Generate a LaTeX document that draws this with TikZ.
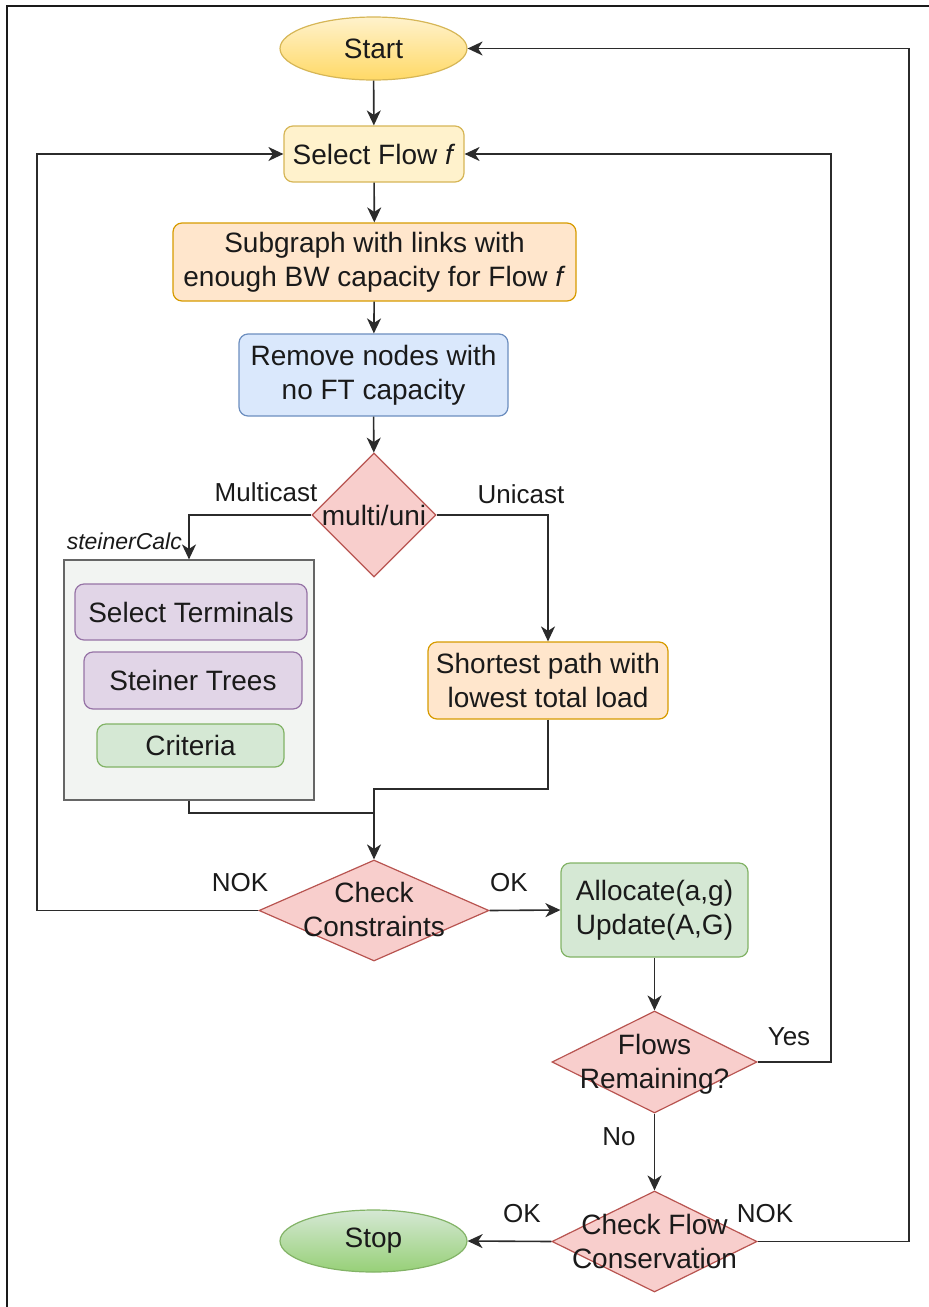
\documentclass[tikz,border=0pt]{standalone}
\usepackage{fontspec}
\setmainfont{Liberation Sans}
\usetikzlibrary{shapes.geometric,arrows.meta}

\definecolor{txt}{HTML}{1A1A1A}
\definecolor{wire}{HTML}{2B2B2B}
\definecolor{yelF}{HTML}{FFF2CC}\definecolor{yelD}{HTML}{D6B656}\definecolor{yelB}{HTML}{FFD966}
\definecolor{orF}{HTML}{FFE6CC}\definecolor{orD}{HTML}{D79B00}
\definecolor{blF}{HTML}{DAE8FC}\definecolor{blD}{HTML}{6C8EBF}
\definecolor{rdF}{HTML}{F8CECC}\definecolor{rdD}{HTML}{B85450}
\definecolor{puF}{HTML}{E1D5E7}\definecolor{puD}{HTML}{9673A6}
\definecolor{grF}{HTML}{D5E8D4}\definecolor{grD}{HTML}{82B366}\definecolor{grB}{HTML}{97D077}
\definecolor{cnF}{HTML}{F2F4F2}\definecolor{cnD}{HTML}{666666}

\tikzset{
  big/.style={font=\fontsize{28}{34}\selectfont, text=txt},
  small/.style={font=\fontsize{26}{30}\selectfont, text=txt},
  stepbox/.style={rectangle, rounded corners=9pt, draw, line width=1.2pt, align=center,
    inner sep=0pt, big},
  terminal/.style={ellipse, draw, line width=1.2pt, inner sep=0pt, big},
  decision/.style={diamond, draw=rdD, fill=rdF, line width=1.2pt, inner sep=0pt, aspect=1},
  dtext/.style={align=center, big},
  arr/.style={draw=wire, line width=1.6pt, -{Stealth[length=15pt,width=14pt,inset=4.5pt]}},
  wireln/.style={draw=wire, line width=1.6pt},
}

\begin{document}
\begin{tikzpicture}[x=1pt,y=-1pt]
\useasboundingbox (0,0) rectangle (929,1307);
% page frame
\draw[line width=1.5pt, draw=txt] (929,6) -- (7,6) -- (7,1307);

% main column
\node[terminal, draw=yelD, top color=yelF, bottom color=yelB, minimum width=187pt, minimum height=63pt]
  (start) at (373.5,48.5) {Start};
\node[stepbox, draw=yelD, fill=yelF, minimum width=180pt, minimum height=56pt]
  (sel) at (374,154) {Select Flow \textit{f}};
\node[stepbox, draw=orD, fill=orF, minimum width=403pt, minimum height=78pt]
  (sub) at (374.5,262) {Subgraph with links with\\enough BW capacity for Flow \textit{f}};
\node[stepbox, draw=blD, fill=blF, minimum width=269pt, minimum height=82pt]
  (rem) at (373.5,375) {Remove nodes with\\no FT capacity};
\node[decision, minimum width=124pt, minimum height=124pt,
  label={[dtext]center:multi/uni}] (mu) at (374,515) {};

% steinerCalc group
\node[rectangle, draw=cnD, fill=cnF, line width=1.2pt, minimum width=250pt, minimum height=240pt]
  (cont) at (189,680) {};
\node[anchor=east, font=\fontsize{23}{27}\selectfont\itshape, text=txt, inner sep=0pt]
  (contlbl) at (182,541) {steinerCalc};
\node[stepbox, draw=puD, fill=puF, minimum width=232pt, minimum height=56pt]
  (term) at (191,612) {Select Terminals};
\node[stepbox, draw=puD, fill=puF, minimum width=218pt, minimum height=57pt]
  (tree) at (193,680.5) {Steiner Trees};
\node[stepbox, draw=grD, fill=grF, minimum width=187pt, minimum height=43pt]
  (crit) at (190.5,745.5) {Criteria};

% unicast branch
\node[stepbox, draw=orD, fill=orF, minimum width=240pt, minimum height=77pt]
  (sp) at (548,680.5) {Shortest path with\\lowest total load};

% checks and allocation
\node[decision, minimum width=230pt, minimum height=101pt,
  label={[dtext, yshift=1.5pt]center:Check\\Constraints}] (cc) at (374,910.5) {};
\node[stepbox, draw=grD, fill=grF, minimum width=187pt, minimum height=94pt]
  (al) at (654.5,910) {Allocate(a,g)\\Update(A,G)};
\node[decision, minimum width=205pt, minimum height=102pt,
  label={[dtext, yshift=-2pt]center:Flows\\Remaining?}] (fr) at (654.5,1062) {};
\node[decision, minimum width=205pt, minimum height=101pt,
  label={[dtext]center:Check Flow\\Conservation}] (cf) at (654.5,1241.5) {};
\node[terminal, draw=grD, top color=grF, bottom color=grB, minimum width=187pt, minimum height=62pt]
  (stop) at (373.5,1241) {Stop};

% bend points
\coordinate (j1) at (374,789);
\coordinate (j2) at (374,813);
\coordinate (l1) at (37,910.5);
\coordinate (r1) at (831,1062);
\coordinate (r2) at (909,1241.5);

% connectors
\draw[arr] (start) -- (sel);
\draw[arr] (sel) -- (sub);
\draw[arr] (sub) -- (rem);
\draw[arr] (rem) -- (mu);
\draw[arr] (mu.west) -| (cont.north);
\draw[arr] (mu.east) -| (sp.north);
\draw[arr] (sp.south) |- (j1) -- (cc.north);
\draw[wireln] (cont.south) |- (j2);
\draw[arr] (cc.west) -- (l1) |- (sel.west);
\draw[arr] (cc.east) -- (al.west);
\draw[arr] (al.south) -- (fr.north);
\draw[arr] (fr.east) -- (r1) |- (sel.east);
\draw[arr] (fr.south) -- (cf.north);
\draw[arr] (cf.west) -- (stop.east);
\draw[arr] (cf.east) -- (r2) |- (start.east);

% connector labels
\node[small] (lmc) at (266,492) {Multicast};
\node[small] (luc) at (521,494) {Unicast};
\node[small] (lnok1) at (240,883) {NOK};
\node[small] (lok1) at (509,883) {OK};
\node[small] (lyes) at (789,1037) {Yes};
\node[small] (lno) at (619,1137) {No};
\node[small] (lok2) at (522,1214) {OK};
\node[small] (lnok2) at (765,1214) {NOK};
\end{tikzpicture}
\end{document}
